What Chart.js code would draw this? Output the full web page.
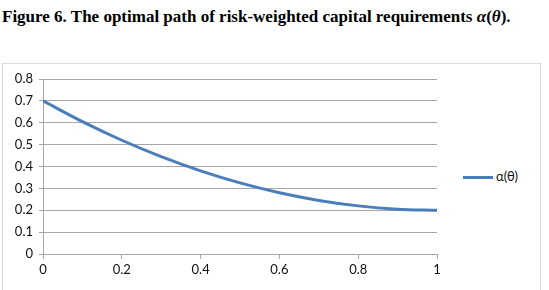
<!DOCTYPE html>
<html>
<head>
<meta charset="utf-8">
<script src="https://cdn.jsdelivr.net/npm/chart.js@4"></script>
<style>
  body { margin: 0; width: 549px; height: 290px; overflow: hidden; background: #fff; position: relative; }
  #title { position: absolute; left: 2px; top: 7px; font-family: "Liberation Serif", serif; font-weight: bold; font-size: 17px; color: #000; white-space: nowrap; }
  #frame { position: absolute; left: 2px; top: 63px; width: 537px; height: 240px; border: 1px solid #d9d9d9; }
  #legend { position: absolute; left: 463px; top: 168px; font-family: Lato, sans-serif; font-size: 13px; color: #111; white-space: nowrap; }
  #legend span.line { display: inline-block; width: 30px; height: 3px; background: #4a7ebb; vertical-align: middle; margin-right: 3px; }
  canvas { position: absolute; left: 0; top: 0; }
</style>
</head>
<body>
<div id="title">Figure 6. The optimal path of risk-weighted capital requirements <i>α</i>(<i>θ</i>).</div>
<div id="frame"></div>
<div id="legend"><span class="line"></span>α(θ)</div>
<canvas id="chart" width="549" height="290"></canvas>
<script>
// theta values and alpha(theta)
const thetaValues = [0, 0.1, 0.2, 0.3, 0.4, 0.5, 0.6, 0.7, 0.8, 0.9, 1];
const alphaValues = [0.70, 0.605, 0.52, 0.445, 0.38, 0.325, 0.28, 0.245, 0.22, 0.205, 0.20];
const seriesName = 'α(θ)';

let points = [];
for (let i = 0; i < thetaValues.length; i++) {
    points.push({ x: thetaValues[i], y: alphaValues[i] });
}

const tickFont = { family: 'Lato', size: 13 };
// Excel style labels: 0, 0.2 ... 1 (no trailing .0)
const fmt = (v) => String(Number(v.toFixed(1)));

new Chart(document.getElementById('chart'), {
    type: 'line',
    data: {
        datasets: [{
            label: seriesName,
            data: points,
            borderColor: '#4a7ebb',
            borderWidth: 3,
            pointRadius: 0,
            cubicInterpolationMode: 'monotone',
            fill: false
        }]
    },
    options: {
        responsive: false,
        animation: false,
        layout: { padding: { left: 0, top: 79, right: 112, bottom: 0 } },
        plugins: { legend: { display: false }, tooltip: { enabled: false } },
        scales: {
            x: {
                type: 'linear',
                min: 0,
                max: 1,
                afterFit: (axis) => { axis.height = 36; },
                ticks: { stepSize: 0.2, color: '#111', font: tickFont, padding: 3, maxRotation: 0, callback: fmt },
                grid: { drawOnChartArea: false, tickLength: 5, color: '#a6a6a6' },
                border: { color: '#a6a6a6' }
            },
            y: {
                min: 0,
                max: 0.8,
                afterFit: (axis) => { axis.width = 43; },
                ticks: { stepSize: 0.1, color: '#111', font: tickFont, padding: 6, callback: fmt },
                grid: { color: '#a6a6a6', tickLength: 4 },
                border: { color: '#a6a6a6' }
            }
        }
    }
});
</script>
</body>
</html>
